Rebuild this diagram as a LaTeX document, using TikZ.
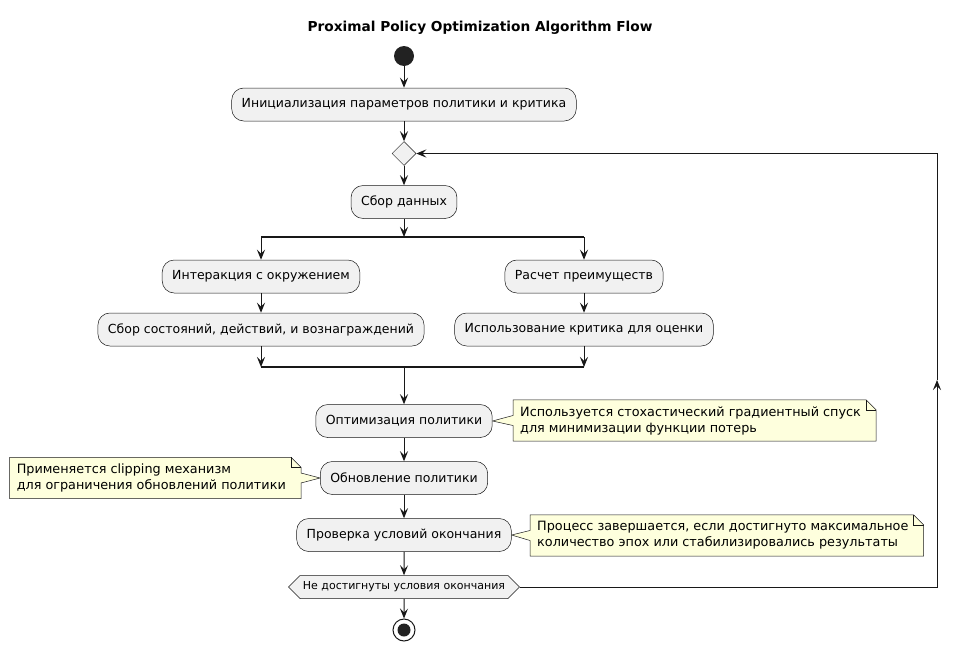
\documentclass[tikz,border=0pt]{standalone}
\usepackage{fontspec}
\setmainfont{DejaVu Sans}
\usetikzlibrary{arrows.meta, shapes.geometric, shapes.symbols, backgrounds}
\definecolor{boxfill}{HTML}{F1F1F1}
\definecolor{umlline}{HTML}{181818}
\definecolor{notefill}{HTML}{FEFFDD}
\definecolor{dotfill}{HTML}{222222}

\tikzset{
  act/.style={rounded corners=12pt, draw=umlline, fill=boxfill, line width=0.5pt,
    minimum height=33pt, inner xsep=10pt, font=\fontsize{12.5}{14}\selectfont},
  flow/.style={draw=umlline, line width=1pt, -{Stealth[length=10pt,width=8pt,inset=4pt]}},
  plain/.style={draw=umlline, line width=1pt},
  forkbar/.style={fill=umlline, inner sep=0pt, minimum height=2.5pt},
  note/.style={align=left, inner xsep=7pt, inner ysep=6pt, minimum height=41pt,
    font=\fontsize{12.8}{16}\selectfont},
}

% note shape with folded corner, drawn behind the text
\newcommand{\drawnote}[1]{%
  \filldraw[draw=umlline, fill=notefill, line width=0.5pt]
    (#1.south west) -- (#1.north west) -- ([xshift=-2pt]#1.north east)
    -- ([xshift=8pt,yshift=-10pt]#1.north east) -- ([xshift=8pt]#1.south east) -- cycle;
  \draw[umlline, line width=0.5pt] ([xshift=-2pt]#1.north east)
    -- ([xshift=-2pt,yshift=-10pt]#1.north east) -- ([xshift=8pt,yshift=-10pt]#1.north east);
}
\newcommand{\notewedge}[3]{% box anchor, note anchor, side (+1 / -1)
  \fill[notefill] (#1) -- ([shift={(#3*1pt,-5pt)}]#2) -- ([shift={(#3*1pt,5pt)}]#2) -- cycle;
  \draw[umlline, line width=0.5pt] ([yshift=-5pt]#2) -- (#1) -- ([yshift=5pt]#2);
}

\begin{document}
\begin{tikzpicture}[x=1pt, y=-1pt]
    \useasboundingbox (0,0) rectangle (962,651);

    % Title
    \node[font=\fontsize{13.7}{16}\selectfont\bfseries] (title) at (480,28) {Proximal Policy Optimization Algorithm Flow};

    % Main column
    \node[circle, fill=dotfill, minimum size=20pt, inner sep=0pt] (start) at (404,56) {};
    \node[act] (init) at (404,104.5) {Инициализация параметров политики и критика};
    \node[diamond, draw=umlline, fill=boxfill, line width=0.5pt, minimum width=24pt, minimum height=24pt, inner sep=0pt] (dec) at (404,153.5) {};
    \node[act] (collect) at (404,202) {Сбор данных};

    % Fork / join bars
    \node[forkbar, minimum width=323pt] (fork) at (422.5,237) {};
    \node[forkbar, minimum width=323pt] (join) at (422.5,367) {};
    \coordinate (forkL) at (261,237);
    \coordinate (forkR) at (584,237);
    \coordinate (forkM) at (404,237);
    \coordinate (joinL) at (261,367);
    \coordinate (joinR) at (584,367);
    \coordinate (joinM) at (404,367);

    % Parallel branches
    \node[act] (inter) at (261,276.5) {Интеракция с окружением};
    \node[act] (states) at (261,329.5) {Сбор состояний, действий, и вознаграждений};
    \node[act] (adv) at (584,276.5) {Расчет преимуществ};
    \node[act] (critic) at (584,329.5) {Использование критика для оценки};

    \node[act] (opt) at (404,421) {Оптимизация политики};
    \node[act] (upd) at (404,478) {Обновление политики};
    \node[act] (check) at (404,535) {Проверка условий окончания};
    \node[signal, signal to=west and east, signal pointer angle=90, draw=umlline, fill=boxfill,
          line width=0.5pt, minimum height=23pt, inner xsep=3pt, inner ysep=2pt,
          font=\fontsize{11}{13}\selectfont] (hex) at (404,587) {Не достигнуты условия окончания};
    \node[circle, draw=umlline, line width=1pt, minimum size=22pt, inner sep=0pt] (stop) at (404,630) {};
    \fill[dotfill] (stop) circle (6.5);

    % Notes
    \node[note, anchor=west] (n1) at (513,420.5) {Используется стохастический градиентный спуск\\для минимизации функции потерь};
    \node[note, anchor=east] (n2) at (293,478) {Применяется clipping механизм\\для ограничения обновлений политики};
    \node[note, anchor=west] (n3) at (530,535.5) {Процесс завершается, если достигнуто максимальное\\количество эпох или стабилизировались результаты};
    \coordinate (n2edge) at ([xshift=8pt]n2.east);
    \begin{pgfonlayer}{background}
        \drawnote{n1}
        \drawnote{n2}
        \drawnote{n3}
        \notewedge{opt.east}{n1.west}{1}
        \notewedge{upd.west}{n2edge}{-1}
        \notewedge{check.east}{n3.west}{1}
    \end{pgfonlayer}

    % Flow
    \draw[flow] (start) -- (init);
    \draw[flow] (init) -- (dec);
    \draw[flow] (dec) -- (collect);
    \draw[flow] (collect) -- (forkM);
    \draw[flow] (forkL) -- (inter);
    \draw[flow] (forkR) -- (adv);
    \draw[flow] (inter) -- (states);
    \draw[flow] (adv) -- (critic);
    \draw[flow] (states) -- (joinL);
    \draw[flow] (critic) -- (joinR);
    \draw[flow] (joinM) -- (opt);
    \draw[flow] (opt) -- (upd);
    \draw[flow] (upd) -- (check);
    \draw[flow] (check) -- (hex);
    \draw[flow] (hex) -- (stop);

    % Loop back
    \coordinate (loopB) at (937,587);
    \coordinate (loopM) at (937,380);
    \coordinate (loopT) at (937,153.5);
    \draw[flow] (hex.east) -- (loopB) -- (loopM);
    \draw[flow] (loopM) -- (loopT) -- (dec.east);
\end{tikzpicture}
\end{document}
